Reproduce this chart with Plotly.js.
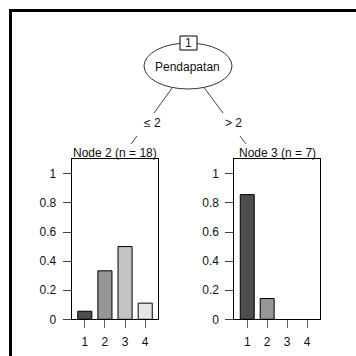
<!DOCTYPE html>
<html>
<head>
<meta charset="utf-8">
<script src="https://cdn.plot.ly/plotly-3.0.1.min.js"></script>
<style>
html,body{margin:0;padding:0;background:#fff;}
#chart{width:356px;height:356px;}
</style>
</head>
<body>
<div id="chart"></div>
<script>
// ---- data ----
const categories = [1, 2, 3, 4];
const categoryLabels = ['1', '2', '3', '4'];
const node2Counts = [1, 6, 9, 2];   // n = 18
const node3Counts = [6, 1, 0, 0];   // n = 7
const node2Title = 'Node 2 (n = 18)';
const node3Title = 'Node 3 (n = 7)';
const rootLabel = 'Pendapatan';
const rootId = '1';
const leftEdgeLabel = '\u2264 2';
const rightEdgeLabel = '> 2';
const yTickVals = [0, 0.2, 0.4, 0.6, 0.8, 1];
const yTickText = ['0', '0.2', '0.4', '0.6', '0.8', '1'];
const barColors = ['#4D4D4D', '#969696', '#C3C3C3', '#E6E6E6'];

function props(counts) {
  const n = counts.reduce((a, b) => a + b, 0);
  return counts.map(c => c / n);
}

// ---- layout helpers (pixel -> paper) ----
const W = 356, H = 356;
const px = x => x / W;
const py = y => 1 - y / H;

const font = {family: 'Liberation Sans, Arial, sans-serif', size: 12, color: '#111'};

function xAxis(domain) {
  return {
    domain: domain, range: [0.35, 4.65], tickmode: 'array',
    tickvals: categories, ticktext: categoryLabels,
    ticks: 'outside', ticklen: 8, tickwidth: 1, tickcolor: '#666',
    ticklabelstandoff: 3,
    showline: true, mirror: true, linecolor: '#000', linewidth: 1,
    showgrid: false, zeroline: false, fixedrange: true, tickfont: font
  };
}
function yAxis(domain) {
  return {
    domain: domain, range: [0, 1.1], tickmode: 'array',
    tickvals: yTickVals, ticktext: yTickText,
    ticks: 'outside', ticklen: 8, tickwidth: 1, tickcolor: '#444',
    ticklabelstandoff: 4,
    showline: true, mirror: true, linecolor: '#000', linewidth: 1,
    showgrid: false, zeroline: false, fixedrange: true, tickfont: font
  };
}

function barTrace(counts, xa, ya) {
  const vals = props(counts);
  return {type: 'bar', x: categories, y: vals, xaxis: xa, yaxis: ya,
    width: 0.7,
    marker: {color: barColors, line: {color: '#000', width: vals.map(v => v > 0 ? 1 : 0)}},
    hoverinfo: 'skip', showlegend: false};
}

const traces = [
  barTrace(node2Counts, 'x', 'y'),
  barTrace(node3Counts, 'x2', 'y2')
];

const edgeLine = {color: '#444', width: 1};
const shapes = [
  // outer frame (left and top visible)
  {type: 'line', xref: 'paper', yref: 'paper', x0: px(10.5), y0: py(10.5), x1: px(10.5), y1: py(400), line: {color: '#000', width: 3}},
  {type: 'line', xref: 'paper', yref: 'paper', x0: px(9), y0: py(10.5), x1: px(400), y1: py(10.5), line: {color: '#000', width: 3}},
  // edges
  {type: 'line', xref: 'paper', yref: 'paper', x0: px(188), y0: py(66), x1: px(154), y1: py(113), line: edgeLine},
  {type: 'line', xref: 'paper', yref: 'paper', x0: px(137), y0: py(136), x1: px(131), y1: py(144), line: edgeLine},
  {type: 'line', xref: 'paper', yref: 'paper', x0: px(188), y0: py(66), x1: px(223), y1: py(113), line: edgeLine},
  {type: 'line', xref: 'paper', yref: 'paper', x0: px(240), y0: py(136), x1: px(246), y1: py(144), line: edgeLine},
  // root ellipse
  {type: 'circle', xref: 'paper', yref: 'paper', x0: px(144), y0: py(89), x1: px(232), y1: py(43),
   fillcolor: '#fff', line: {color: '#333', width: 1}},
  // id box
  {type: 'rect', xref: 'paper', yref: 'paper', x0: px(180), y0: py(50), x1: px(197), y1: py(36),
   fillcolor: '#fff', line: {color: '#000', width: 1}}
];

const annotations = [
  {text: rootLabel, x: px(188), y: py(67), xref: 'paper', yref: 'paper', showarrow: false, xanchor: 'center', yanchor: 'middle', font: font},
  {text: rootId, x: px(188.5), y: py(43), xref: 'paper', yref: 'paper', showarrow: false, xanchor: 'center', yanchor: 'middle', font: font},
  {text: leftEdgeLabel, x: px(152.5), y: py(123), xref: 'paper', yref: 'paper', showarrow: false, xanchor: 'center', yanchor: 'middle', font: font},
  {text: rightEdgeLabel, x: px(233.5), y: py(123), xref: 'paper', yref: 'paper', showarrow: false, xanchor: 'center', yanchor: 'middle', font: font},
  {text: node2Title, x: px(115), y: py(153), xref: 'paper', yref: 'paper', showarrow: false, xanchor: 'center', yanchor: 'middle', font: font},
  {text: node3Title, x: px(277), y: py(153), xref: 'paper', yref: 'paper', showarrow: false, xanchor: 'center', yanchor: 'middle', font: font}
];

const layout = {
  width: W, height: H,
  margin: {l: 0, r: 0, t: 0, b: 0, pad: 0},
  paper_bgcolor: '#fff', plot_bgcolor: '#fff',
  showlegend: false, bargap: 0,
  xaxis: Object.assign(xAxis([px(71.7), px(158.3)]), {anchor: 'y'}),
  yaxis: Object.assign(yAxis([py(319.3), py(159.3)]), {anchor: 'x'}),
  xaxis2: Object.assign(xAxis([px(234.3), px(320)]), {anchor: 'y2'}),
  yaxis2: Object.assign(yAxis([py(319.3), py(159.3)]), {anchor: 'x2'}),
  shapes: shapes,
  annotations: annotations,
  font: font
};

Plotly.newPlot('chart', traces, layout, {displayModeBar: false, staticPlot: true});
</script>
</body>
</html>
